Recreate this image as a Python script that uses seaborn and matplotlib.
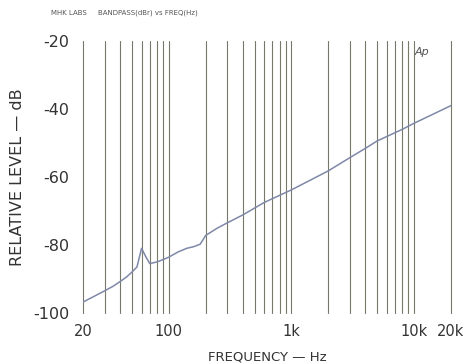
import numpy as np
import pandas as pd
import seaborn as sns
import matplotlib.pyplot as plt
from matplotlib.ticker import FixedLocator, NullFormatter

# response
freq_hz = [20, 25, 30, 35, 40, 45, 50, 55, 60, 65, 70, 80, 90, 100, 120, 140, 160, 180,
           190, 200, 250, 300, 400, 600, 1000, 2000, 3000, 4000, 5000, 8000, 10000, 20000]
level_db = [-96.8, -95.0, -93.5, -92.2, -90.8, -89.5, -88.0, -86.5, -81.0, -83.5, -85.5, -85.0,
            -84.3, -83.6, -82.0, -81.0, -80.5, -79.8, -78.5, -77.2, -75.0, -73.5, -71.2, -67.5,
            -63.8, -58.2, -54.3, -51.6, -49.4, -46.0, -44.2, -39.0]

x_labels = ["20", "100", "1k", "10k", "20k"]
x_label_pos = [20, 100, 1000, 10000, 20000]
y_ticks = [-20, -40, -60, -80, -100]
grid_freqs = [20, 30, 40, 50, 60, 70, 80, 90, 100, 200, 300, 400, 500, 600, 700, 800, 900,
              1000, 2000, 3000, 4000, 5000, 6000, 7000, 8000, 9000, 10000, 20000]

df = pd.DataFrame({"freq": freq_hz, "level": level_db})

sns.set_style("white")
plt.rcParams['font.family'] = ['DejaVu Sans']

fig = plt.figure(figsize=(4.64, 3.63), dpi=100)
ax = fig.add_axes([0.179, 0.138, 0.793, 0.749])

sns.lineplot(data=df, x="freq", y="level", ax=ax, color="#7f88a6", linewidth=1.1, zorder=3)

ax.set_xscale("log")
ax.set_xlim(20, 20000)
ax.set_ylim(-100, -20)

ax.xaxis.set_major_locator(FixedLocator(x_label_pos))
ax.set_xticklabels(x_labels)
ax.xaxis.set_minor_locator(FixedLocator(grid_freqs))
ax.xaxis.set_minor_formatter(NullFormatter())
ax.set_yticks(y_ticks)
ax.set_yticklabels(["-20", "-40", "-60", "-80", "-100"])

ax.grid(True, which="both", axis="x", color="#77776a", linewidth=0.8)
ax.grid(False, axis="y")
for s in ax.spines.values():
    s.set_visible(False)
ax.tick_params(axis="both", which="both", length=0, labelsize=10.5, colors="#333333")
ax.tick_params(axis="y", labelsize=11.5, pad=10)
ax.tick_params(axis="x", pad=8)

ax.set_xlabel("FREQUENCY — Hz", fontsize=9.5, color="#333333", labelpad=8)
ax.set_ylabel("RELATIVE LEVEL — dB", fontsize=11.5, color="#333333", labelpad=6)

ax.text(0.92, 0.96, "Ap", transform=ax.transAxes, fontsize=8, style="italic",
        color="#555555", ha="center", va="center")
fig.text(0.11, 0.965, "MHK LABS     BANDPASS(dBr) vs FREQ(Hz)", fontsize=5,
         color="#555555", ha="left", va="center")

for t in ax.xaxis.get_major_ticks() + ax.xaxis.get_minor_ticks():
    t.gridline.set_clip_on(False)

fig.savefig("out.png", dpi=100)
